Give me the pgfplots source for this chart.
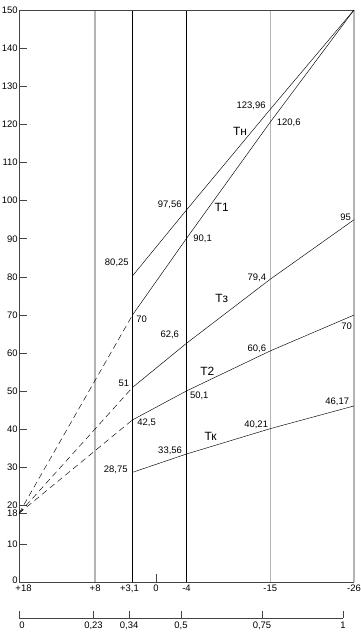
\documentclass[border=0pt]{standalone}
\usepackage{fontspec}
\setmainfont{Liberation Sans}
\usepackage{pgfplots}
\pgfplotsset{compat=1.18}
\definecolor{axgray}{HTML}{444444}
\definecolor{lgray}{HTML}{B4B4B4}
\begin{document}
\begin{tikzpicture}[x=1bp,y=1bp]
\useasboundingbox (0,0) rectangle (360,640);
\begin{axis}[at={(19bp,58bp)}, anchor=south west, scale only axis,
  width=335bp, height=572bp,
  xmin=0, xmax=1, ymin=0, ymax=150, clip=false,
  axis x line*=bottom, axis y line*=left,
  axis line style={draw=axgray, line width=0.8pt, -},
  xtick={0,0.22727,0.33864,0.40909,0.5,0.75,1},
  xticklabels={\hspace{9bp}+18,+8,\hspace{-6bp}{+3,1},0,-4,-15,-26},
  ytick={0,10,18,20,30,40,50,60,70,80,90,100,110,120,130,140,150},
  yticklabels={\raisebox{3bp}{0},10,\raisebox{-1.5bp}{18},\raisebox{1.5bp}{20},30,40,50,60,70,80,90,100,110,120,130,140,150},
  tick align=inside, major tick length=8bp,
  tick style={draw=axgray, line width=0.6pt},
  ticklabel style={font=\fontsize{9.5}{10}\selectfont},
  yticklabel style={inner sep=1.2pt},
  xticklabel style={inner sep=2.5pt},
  /pgf/number format/assume math mode=true,
]
% vertical reference lines
\addplot[lgray, line width=1.4pt] coordinates {(0.22727,0)(0.22727,150)};
\addplot[lgray, line width=1.4pt] coordinates {(0.75,0)(0.75,150)};
\addplot[lgray, line width=1.4pt] coordinates {(1,0)(1,150)};
\addplot[black, line width=0.8pt] coordinates {(0.33864,0)(0.33864,150)};
\addplot[black, line width=0.8pt] coordinates {(0.5,0)(0.5,150)};
\addplot[axgray, line width=0.8pt] coordinates {(0,150)(1,150)};
% curves
\addplot[black, line width=0.45pt] coordinates {(0.33864,80.25)(0.5,97.56)(0.75,123.96)(1,150)};
\addplot[black, line width=0.45pt] coordinates {(0.33864,70)(0.5,90.1)(0.75,120.6)(1,150)};
\addplot[black, line width=0.45pt] coordinates {(0.33864,51)(0.5,62.6)(0.75,79.4)(1,95)};
\addplot[black, line width=0.45pt] coordinates {(0.33864,42.5)(0.5,50.1)(0.75,60.6)(1,70)};
\addplot[black, line width=0.45pt] coordinates {(0.33864,28.75)(0.5,33.56)(0.75,40.21)(1,46.17)};
% dashed extrapolations
\addplot[black, line width=0.45pt, dash pattern=on 6bp off 4bp] coordinates {(0,18)(0.33864,70)};
\addplot[black, line width=0.45pt, dash pattern=on 6bp off 4bp] coordinates {(0,18)(0.33864,51)};
\addplot[black, line width=0.45pt, dash pattern=on 6bp off 4bp] coordinates {(0,18)(0.33864,42.5)};
% value labels
\begin{scope}[every node/.style={font=\fontsize{9.5}{10}\selectfont, inner sep=0pt}]
\node at (axis cs:0.693,124.8) {123,96};
\node at (axis cs:0.805,120.4) {120,6};
\node at (axis cs:0.450,98.8) {97,56};
\node at (axis cs:0.548,90.0) {90,1};
\node at (axis cs:0.292,83.6) {80,25};
\node at (axis cs:0.975,95.7) {95};
\node at (axis cs:0.710,79.9) {79,4};
\node at (axis cs:0.366,68.8) {70};
\node at (axis cs:0.450,64.7) {62,6};
\node at (axis cs:0.710,61.2) {60,6};
\node at (axis cs:0.978,67.0) {70};
\node at (axis cs:0.313,52.1) {51};
\node at (axis cs:0.538,48.8) {50,1};
\node at (axis cs:0.950,47.2) {46,17};
\node at (axis cs:0.381,41.8) {42,5};
\node at (axis cs:0.708,41.1) {40,21};
\node at (axis cs:0.451,34.5) {33,56};
\node at (axis cs:0.289,29.5) {28,75};
\end{scope}
\begin{scope}[every node/.style={font=\fontsize{12}{13}\selectfont, inner sep=0pt}]
\node at (axis cs:0.660,118.2) {Тн};
\node at (axis cs:0.605,98.2) {Т1};
\node at (axis cs:0.605,74.4) {Тз};
\node at (axis cs:0.562,55.3) {Т2};
\node at (axis cs:0.572,38.1) {Тк};
\end{scope}
\end{axis}
\begin{axis}[at={(19bp,22bp)}, anchor=south west, scale only axis,
  width=324bp, height=10bp,
  xmin=0, xmax=1, ymin=0, ymax=1,
  hide y axis, axis x line*=bottom,
  axis line style={draw=axgray, line width=0.8pt, -},
  xtick={0,0.23,0.34,0.5,0.75,1},
  xticklabels={\hspace{6bp}0,{0,23},{0,34},{0,5},{0,75},1},
  tick align=inside, major tick length=7bp,
  tick style={draw=axgray, line width=0.6pt},
  ticklabel style={font=\fontsize{9.5}{10}\selectfont},
  xticklabel style={inner sep=4pt},
]
\addplot[draw=none] coordinates {(0,0)(1,1)};
\end{axis}
\end{tikzpicture}
\end{document}
